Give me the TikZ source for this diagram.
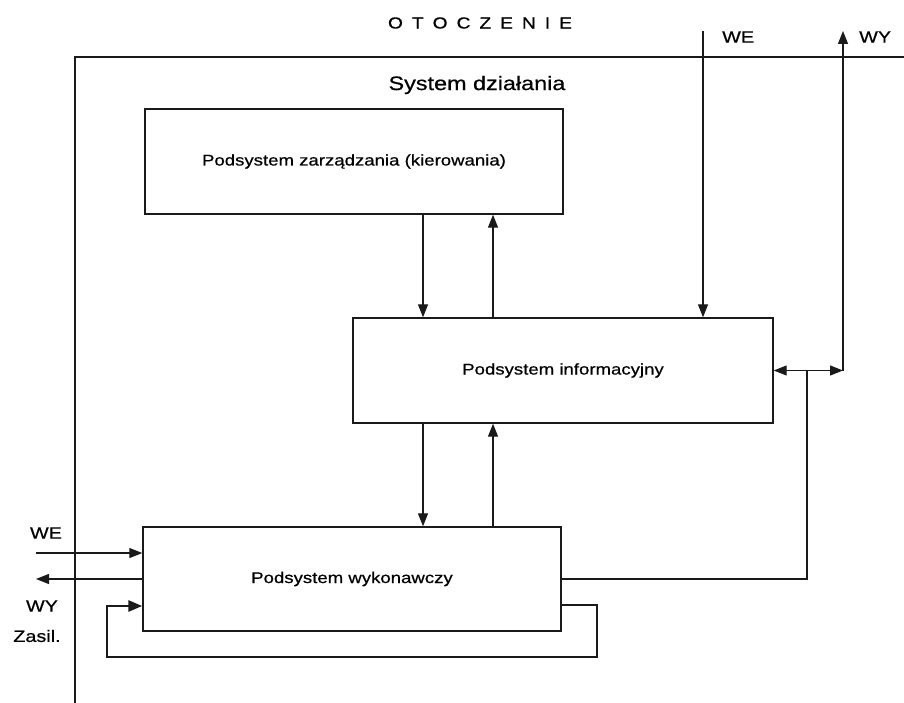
\documentclass[tikz,border=0pt]{standalone}
\usepackage{fontspec}
\setmainfont{Liberation Sans}[FakeStretch=1.2,FakeBold=0.6]
\usetikzlibrary{arrows.meta}
\definecolor{ink}{HTML}{1A1A1A}
\begin{document}
\begin{tikzpicture}[x=1pt,y=-1pt,
  thin line/.style={draw=ink,line width=1.3pt},
  frame line/.style={draw=ink,line width=1.6pt},
  loop line/.style={draw=ink,line width=2.8pt},
  arr/.style={thin line,-{Triangle[length=13pt,width=10pt]}},
  looparr/.style={loop line,-{Triangle[length=14pt,width=11pt]}},
  subsys/.style={draw=ink,line width=1.4pt,rectangle,inner sep=0pt,
    minimum height=105pt,font=\fontsize{15.5}{18}\selectfont},
  lbl/.style={inner sep=0pt,font=\fontsize{16.5}{19}\selectfont}]
\useasboundingbox[fill=white] (0,0) rectangle (904,703);

% environment frame
\draw[frame line] (904,57) -- (75,57) -- (75,703);
\node[inner sep=0pt,font=\fontsize{16}{19}\selectfont] (env) at (480,23)
  {O\kern9pt T\kern9pt O\kern9pt C\kern9pt Z\kern9pt E\kern9pt N\kern9pt I\kern9pt E};
\node[inner sep=0pt,font=\fontsize{19.5}{22}\selectfont] (sys) at (477,85) {System działania};

% subsystems
\node[subsys,minimum width=418pt] (mgmt) at (354,161.5) {Podsystem zarządzania (kierowania)};
\node[subsys,minimum width=420pt] (info) at (563,370.5) {Podsystem informacyjny};
\node[subsys,minimum width=418pt,minimum height=104pt] (exec) at (352,579) {Podsystem wykonawczy};

% vertical channels between the subsystems
\coordinate (down) at (423,0);
\coordinate (up) at (493,0);
\draw[arr] (mgmt.south -| down) -- (info.north -| down);
\draw[arr] (info.north -| up) -- (mgmt.south -| up);
\draw[arr] (info.south -| down) -- (exec.north -| down);
\draw[arr] (exec.north -| up) -- (info.south -| up);

% inputs and outputs on the right
\coordinate (weTop) at (703,31);
\coordinate (wyTop) at (843,31);
\coordinate (split) at (807,370.5);
\node[lbl,anchor=west] (weR) at (722,37) {WE};
\node[lbl,anchor=west] (wyR) at (859,37) {WY};
\draw[arr] (weTop) -- (info.north -| weTop);
\draw[thin line] (exec.east) -| (split);
\draw[arr] (split) -- (info.east);
\draw[arr] (split) -- (split -| wyTop);
\draw[arr] (split -| wyTop) -- (wyTop);

% inputs and outputs on the left
\coordinate (weL) at (36,553);
\coordinate (wyL) at (36,579);
\node[lbl] (weLeft) at (46,533) {WE};
\node[lbl] (wyLeft) at (42,606) {WY};
\node[lbl] (zas) at (37,636) {Zasil.};
\draw[arr] (weL) -- (weL -| exec.west);
\draw[arr] (exec.west) -- (wyL);

% feedback loop of the executive subsystem
\coordinate (loopOut) at (0,605);
\coordinate (loopIn) at (0,606);
\coordinate (loopBR) at (597,657);
\coordinate (loopBL) at (107,657);
\draw[looparr] (exec.east |- loopOut) -| (loopBR) -- (loopBL) |- (exec.west |- loopIn);
\end{tikzpicture}
\end{document}
